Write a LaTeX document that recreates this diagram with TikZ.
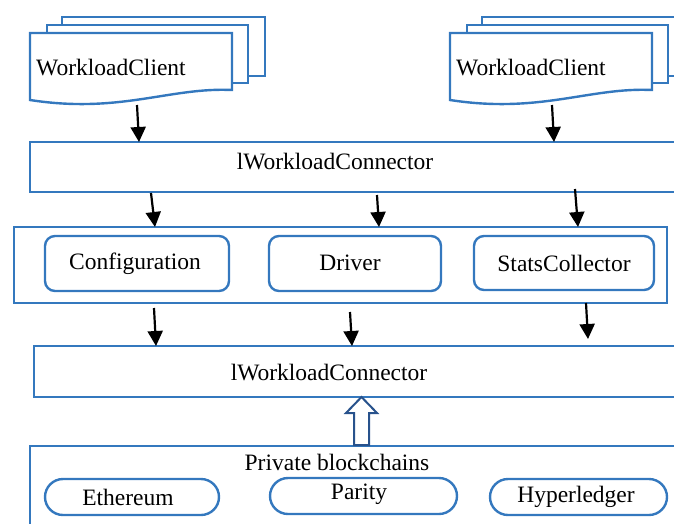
\documentclass[tikz,border=0pt]{standalone}
\usepackage{fontspec}
\setmainfont{Liberation Serif}
\usetikzlibrary{arrows.meta}
\definecolor{frameblue}{RGB}{52,120,190}
\definecolor{hollowblue}{RGB}{40,82,140}
\tikzset{
  frame/.style={draw=frameblue, line width=2.4pt},
  module/.style={draw=frameblue, line width=2.4pt, rounded corners=10pt},
  chain/.style={draw=frameblue, line width=2.4pt, rounded corners=18pt},
  label/.style={inner sep=0pt, font=\fontsize{23.5}{28}\selectfont},
  flow/.style={line width=2.2pt, -{Triangle[length=15pt,width=15pt]}},
}
\begin{document}
\begin{tikzpicture}[x=1pt,y=-1pt]
\useasboundingbox (0,0) rectangle (674,523);
\clip (0,0) rectangle (674,523);

% ---- stacked workload client documents ----
\foreach \dx/\nm in {0/wcl,420/wcr}{
  \begin{scope}[xshift=\dx pt]
    \draw[frame, line join=miter] (62,25) -- (62,17) -- (265,17) -- (265,76) -- (248,76);
    \draw[frame, line join=miter] (47,33) -- (47,25) -- (248,25) -- (248,83) -- (232,83);
    \draw[frame, fill=white, line join=miter] (30,100) -- (30,33) -- (232,33) -- (232,90)
      .. controls (170,87) and (120,114) .. (30,100) -- cycle;
    \node[label, anchor=west] (\nm) at (36,68) {WorkloadClient};
  \end{scope}
}

% ---- upper connector layer ----
\draw[frame] (30,142) rectangle (700,192);
\node[label] (conn1) at (335,162) {lWorkloadConnector};

% ---- core modules ----
\draw[frame] (14,227) rectangle (667,303);
\draw[module] (45,236) rectangle (229,291);
\node[label] (config) at (135,264) {Configuration};
\draw[module] (269,236) rectangle (441,291);
\node[label] (driver) at (350,263) {Driver};
\draw[module] (474,236) rectangle (654,290);
\node[label] (stats) at (564,263) {StatsCollector};

% ---- lower connector layer ----
\draw[frame] (34,346) rectangle (700,397);
\node[label] (conn2) at (329,373) {lWorkloadConnector};

% ---- blockchain backends ----
\draw[frame] (30,446) rectangle (700,560);
\node[label] (chains) at (337,462) {Private blockchains};
\draw[chain] (45,479) rectangle (219,515);
\node[label] (eth) at (128,497) {Ethereum};
\draw[chain] (270,478) rectangle (457,514);
\node[label] (parity) at (359,494) {Parity};
\draw[chain] (490,479) rectangle (667,515);
\node[label] (hyper) at (576,497) {Hyperledger};

% ---- arrow end points ----
\coordinate (a1s) at (137,105); \coordinate (a1e) at (139,142);
\coordinate (a2s) at (552,105); \coordinate (a2e) at (554,142);
\coordinate (a3s) at (151,193); \coordinate (a3e) at (155,227);
\coordinate (a4s) at (377,195); \coordinate (a4e) at (379,227);
\coordinate (a5s) at (575,189); \coordinate (a5e) at (578,227);
\coordinate (a6s) at (154,308); \coordinate (a6e) at (156,346);
\coordinate (a7s) at (350,312); \coordinate (a7e) at (352,346);
\coordinate (a8s) at (586,303); \coordinate (a8e) at (588,339);

\foreach \i in {1,...,8}{
  \draw[flow] (a\i s) -- (a\i e);
}

% ---- hollow upward arrow ----
\coordinate (up) at (361.5,445);
\draw[draw=hollowblue, fill=white, line width=2pt, line join=miter]
  ([xshift=-7.5pt]up) -- ++(0,-32) -- ++(-8,0) -- ++(15.5,-16) -- ++(15.5,16)
  -- ++(-8,0) -- ([xshift=7.5pt]up) -- cycle;
\end{tikzpicture}
\end{document}
